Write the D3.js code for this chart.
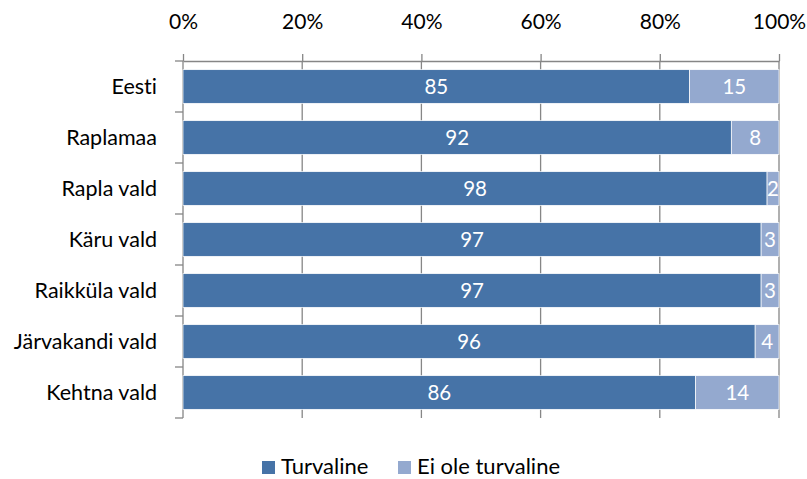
<!DOCTYPE html>
<html><head><meta charset="utf-8">
<script src="https://cdn.jsdelivr.net/npm/d3@7"></script>
<style>
body{margin:0;background:#fff;}
svg{display:block;font-family:Lato,"Open Sans",sans-serif;font-variant-ligatures:none;}
</style></head>
<body>
<svg id="chart" width="807" height="479"></svg>
<script>
const categories = ["Eesti","Raplamaa","Rapla vald","Käru vald","Raikküla vald","Järvakandi vald","Kehtna vald"];
const turvaline = [85,92,98,97,97,96,86];
const eiOle = [15,8,2,3,3,4,14];
const tickValues = [0,20,40,60,80,100];
const seriesNames = ["Turvaline","Ei ole turvaline"];
const colors = ["#4673a7","#94a9cf"];

(function(){
const svg = d3.select("#chart");
const pL = 183, pR = 779, pT = 61, pB = 418;
const x = d3.scaleLinear().domain([0,100]).range([pL,pR]);
const y = d3.scaleBand().domain(categories).range([pT,pB]).paddingInner(0.34).paddingOuter(0.17);
const axisColor = "#868686";

// gridlines
svg.append("g").selectAll("line").data(tickValues.slice(1)).join("line")
  .attr("x1",d=>x(d)).attr("x2",d=>x(d)).attr("y1",pT).attr("y2",pB)
  .attr("stroke",axisColor).attr("stroke-width",1.3);

// top axis
const xAxis = svg.append("g").attr("transform",`translate(0,${pT})`)
  .call(d3.axisTop(x).tickValues(tickValues).tickFormat(d=>d+"%").tickSizeInner(7).tickSizeOuter(0).tickPadding(25));
xAxis.select(".domain").attr("stroke",axisColor).attr("stroke-width",1.3);
xAxis.selectAll(".tick line").attr("stroke",axisColor).attr("stroke-width",1.3);
xAxis.selectAll(".tick text").attr("fill","#000").style("font-size","21px").style("font-family","Lato, 'Open Sans', sans-serif");

// left axis
const n = categories.length;
svg.append("line").attr("x1",pL).attr("x2",pL).attr("y1",pT).attr("y2",pB)
  .attr("stroke",axisColor).attr("stroke-width",1.3);
svg.append("g").selectAll("line").data(d3.range(n+1)).join("line")
  .attr("x1",pL-8).attr("x2",pL).attr("y1",i=>pT+i*(pB-pT)/n).attr("y2",i=>pT+i*(pB-pT)/n)
  .attr("stroke",axisColor).attr("stroke-width",1.3);
svg.append("g").selectAll("text").data(categories).join("text")
  .attr("x",pL-26).attr("y",d=>y(d)+y.bandwidth()/2).attr("dy","0.36em")
  .attr("text-anchor","end").style("font-size","21.5px").text(d=>d);

// bars
const rows = categories.map((c,i)=>({c, vals:[turvaline[i], eiOle[i]]}));
rows.forEach(r=>{
  let acc = 0;
  r.vals.forEach((v,j)=>{
    const x0 = x(acc), x1 = x(acc+v);
    svg.append("rect").attr("x",x0).attr("y",y(r.c)).attr("width",x1-x0).attr("height",y.bandwidth())
      .attr("fill",colors[j]).attr("stroke","#fff").attr("stroke-width",0.7);
    svg.append("text").attr("x",(x0+x1)/2).attr("y",y(r.c)+y.bandwidth()/2).attr("dy","0.37em")
      .attr("text-anchor","middle").attr("fill","#fff").style("font-size","20.5px").text(v);
    acc += v;
  });
});

// legend
const legX = [262, 398];
seriesNames.forEach((s,i)=>{
  svg.append("rect").attr("x",legX[i]).attr("y",461).attr("width",13).attr("height",13).attr("fill",colors[i]);
  svg.append("text").attr("x",legX[i]+19).attr("y",474).style("font-size","22px").text(s);
});
})();
</script>
</body></html>
